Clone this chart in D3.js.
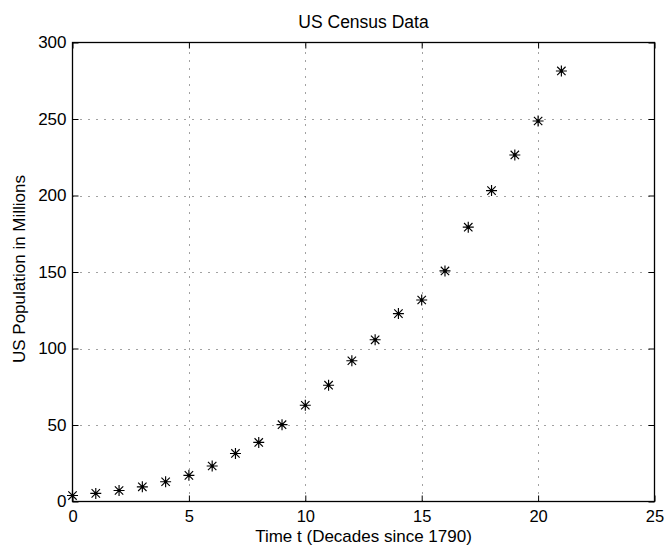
<!DOCTYPE html>
<html>
<head>
<meta charset="utf-8">
<script src="https://cdn.jsdelivr.net/npm/d3@7"></script>
<style>
  html, body { margin: 0; padding: 0; background: #fff; }
  svg { display: block; }
  text { font-family: "Liberation Sans", Arial, Helvetica, sans-serif; fill: #000; }
</style>
</head>
<body>
<svg id="chart" width="665" height="546"></svg>
<script>
// ---- data ----
const decades = [0,1,2,3,4,5,6,7,8,9,10,11,12,13,14,15,16,17,18,19,20,21];
const population = [3.9,5.3,7.2,9.6,12.9,17.1,23.2,31.4,38.6,50.2,62.9,76.0,92.0,105.7,122.8,131.7,150.7,179.3,203.2,226.5,248.7,281.4];
const xTicks = [0,5,10,15,20,25];
const yTicks = [0,50,100,150,200,250,300];
const titleText = "US Census Data";
const xLabelText = "Time t (Decades since 1790)";
const yLabelText = "US Population in Millions";

// ---- layout ----
const L = 72.5, R = 654.5, T = 42.5, B = 501.5;
const svg = d3.select("#chart");

const x = d3.scaleLinear().domain([0, 25]).range([L, R]);
const y = d3.scaleLinear().domain([0, 300]).range([B, T]);

// grid
const grid = svg.append("g").attr("stroke", "#444").attr("stroke-width", 1)
  .attr("stroke-dasharray", "1 7");
grid.selectAll("line.gx").data(xTicks.filter(d => d > 0 && d < 25)).join("line")
  .attr("class", "gx")
  .attr("x1", d => Math.round(x(d)) + 0.5).attr("x2", d => Math.round(x(d)) + 0.5)
  .attr("y1", B).attr("y2", T);
grid.selectAll("line.gy").data(yTicks.filter(d => d > 0 && d < 300)).join("line")
  .attr("class", "gy")
  .attr("y1", d => Math.round(y(d)) + 0.5).attr("y2", d => Math.round(y(d)) + 0.5)
  .attr("x1", L).attr("x2", R);

// axes (ticks inward, on all four sides)
const tickLen = 6;
const axB = d3.axisBottom(x).tickValues(xTicks).tickSizeInner(-tickLen).tickSizeOuter(0).tickPadding(9);
const axT = d3.axisTop(x).tickValues(xTicks).tickSizeInner(-tickLen).tickSizeOuter(0).tickFormat("");
const axL = d3.axisLeft(y).tickValues(yTicks).tickSizeInner(-tickLen).tickSizeOuter(0).tickPadding(6);
const axR = d3.axisRight(y).tickValues(yTicks).tickSizeInner(-tickLen).tickSizeOuter(0).tickFormat("");

function styleAxis(g, size) {
  g.select(".domain").remove();
  g.selectAll(".tick line").attr("stroke", "#000").attr("stroke-width", 1);
  g.selectAll(".tick text").attr("font-size", size).attr("font-family", "Liberation Sans, Arial, sans-serif").attr("fill", "#000");
}
svg.append("g").attr("transform", `translate(0,${B})`).call(axB).call(styleAxis, 16.5);
svg.append("g").attr("transform", `translate(0,${T})`).call(axT).call(styleAxis, 17);
svg.append("g").attr("transform", `translate(${L},0)`).call(axL).call(styleAxis, 17);
svg.append("g").attr("transform", `translate(${R},0)`).call(axR).call(styleAxis, 17);

// frame
svg.append("rect").attr("x", L).attr("y", T).attr("width", R - L).attr("height", B - T)
  .attr("fill", "none").attr("stroke", "#000").attr("stroke-width", 1.3);

// markers (asterisk)
const rp = 5.5, rd = 4.2;
const starPath = `M${-rp},0L${rp},0M0,${-rp}L0,${rp}M${-rd},${-rd}L${rd},${rd}M${-rd},${rd}L${rd},${-rd}`;
const pts = svg.append("g");
const data = decades.map((d, i) => ({ t: d, p: population[i] }));
pts.selectAll("path").data(data).join("path")
  .attr("transform", d => `translate(${x(d.t)},${y(d.p)})`)
  .attr("d", starPath).attr("stroke", "#000").attr("stroke-width", 1.15).attr("fill", "none");
pts.selectAll("circle").data(data).join("circle")
  .attr("cx", d => x(d.t)).attr("cy", d => y(d.p)).attr("r", 1.6).attr("fill", "#000");

// labels
svg.append("text").attr("x", (L + R) / 2).attr("y", 28).attr("text-anchor", "middle")
  .attr("font-size", 17.5).text(titleText);
svg.append("text").attr("x", (L + R) / 2).attr("y", 541.5).attr("text-anchor", "middle")
  .attr("font-size", 17).text(xLabelText);
svg.append("text").attr("transform", `translate(25,${(T + B) / 2 - 3}) rotate(-90)`)
  .attr("text-anchor", "middle").attr("font-size", 17).text(yLabelText);
</script>
</body>
</html>
